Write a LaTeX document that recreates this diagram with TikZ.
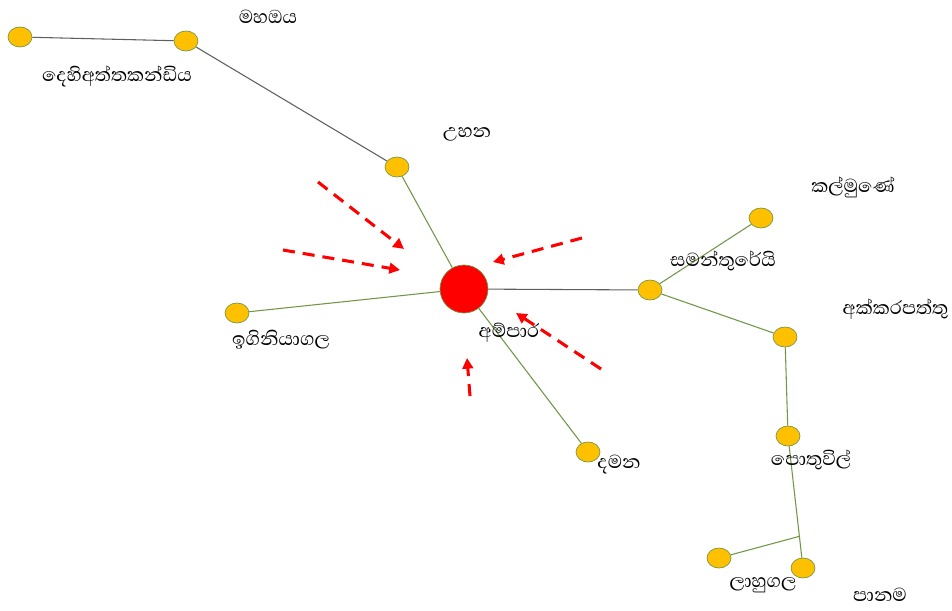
\documentclass[tikz,border=0pt]{standalone}
\usepackage{fontspec}
\newfontfamily\sinhalafont[Script=Sinhala]{Abhaya Libre}
\usetikzlibrary{arrows.meta, shapes.geometric, calc}
\definecolor{townyellow}{RGB}{255,192,0}
\definecolor{roadgreen}{RGB}{112,150,70}
\definecolor{roadgray}{RGB}{95,95,95}
\begin{document}
\begin{tikzpicture}[x=0.75pt, y=-0.75pt, font=\sinhalafont\fontsize{18}{21}\selectfont]
    \tikzset{town node/.style={ellipse,draw=roadgreen,fill=townyellow,line width=0.5pt,minimum width=18pt,minimum height=15pt,inner sep=0pt}}
    \tikzset{road/.style={roadgreen,line width=0.8pt}}
    \tikzset{flow arrow/.style={red,line width=2.3pt,dash pattern=on 9pt off 6pt,-{Triangle[length=8pt,width=8pt]}}}

    \useasboundingbox (0,0) rectangle (952,610);

    % Main town (red)
    \node[circle,draw=roadgreen,fill=red,line width=0.5pt,minimum size=36pt,inner sep=0pt] (ampara) at (464, 289) {};

    % Towns
    \node[town node] (dehi) at (20, 37) {};
    \node[town node] (mahaoya) at (186, 41) {};
    \node[town node] (uhana) at (397, 167) {};
    \node[town node] (igini) at (237, 313) {};
    \node[town node] (damana) at (588, 452) {};
    \node[town node] (samanth) at (650, 290) {};
    \node[town node] (kalmunai) at (761, 218) {};
    \node[town node] (akkarai) at (785, 337) {};
    \node[town node] (pottuvil) at (788, 436) {};
    \node[town node] (lahugala) at (719, 558) {};
    \node[town node] (panama) at (803, 568) {};

    % Roads
    \draw[road, roadgray] (dehi) -- (mahaoya);
    \draw[road, roadgray] (mahaoya) -- (uhana);
    \draw[road] (uhana) -- (ampara);
    \draw[road] (ampara) -- (igini);
    \draw[road, roadgray] (ampara) -- (samanth);
    \draw[road] (ampara) -- (damana);
    \draw[road] (samanth) -- (kalmunai);
    \draw[road] (samanth) -- (akkarai);
    \draw[road] (akkarai) -- (pottuvil);
    \draw[road] (pottuvil) -- (panama);
    \coordinate (junction) at ($(pottuvil)!0.76!(panama)$);
    \draw[road] (lahugala) -- (junction);

    % Labels
    \node (l_mahaoya) at (268, 17) {මහඔය};
    \node (l_dehi) at (117, 76) {දෙහිඅත්තකන්ඩිය};
    \node (l_uhana) at (467, 134) {උහන};
    \node (l_ampara) at (509, 333) {අම්පාර};
    \node (l_igini) at (281, 340) {ඉගිනියාගල};
    \node (l_damana) at (619, 465) {දමන};
    \node (l_samanth) at (723, 261) {සමන්තුරේයි};
    \node (l_kalmunai) at (853, 187) {කල්මුණේ};
    \node[anchor=west] (l_akkarai) at (838, 309) {අක්කරපත්තු};
    \node (l_pottuvil) at (811, 460) {පොතුවිල්};
    \node (l_lahugala) at (763, 585) {ලාහුගල};
    \node (l_panama) at (880, 595) {පානම};

    % Flows into Ampara
    \coordinate (a1s) at (318, 182); \coordinate (a1e) at (404, 249);
    \coordinate (a2s) at (283, 250); \coordinate (a2e) at (400, 270);
    \coordinate (a3s) at (582, 238); \coordinate (a3e) at (493, 262);
    \coordinate (a4s) at (601, 369); \coordinate (a4e) at (516, 313);
    \coordinate (a5s) at (470, 396); \coordinate (a5e) at (467, 358);
    \foreach \i in {1,...,5}
        \draw[flow arrow] (a\i s) -- (a\i e);

\end{tikzpicture}
\end{document}
